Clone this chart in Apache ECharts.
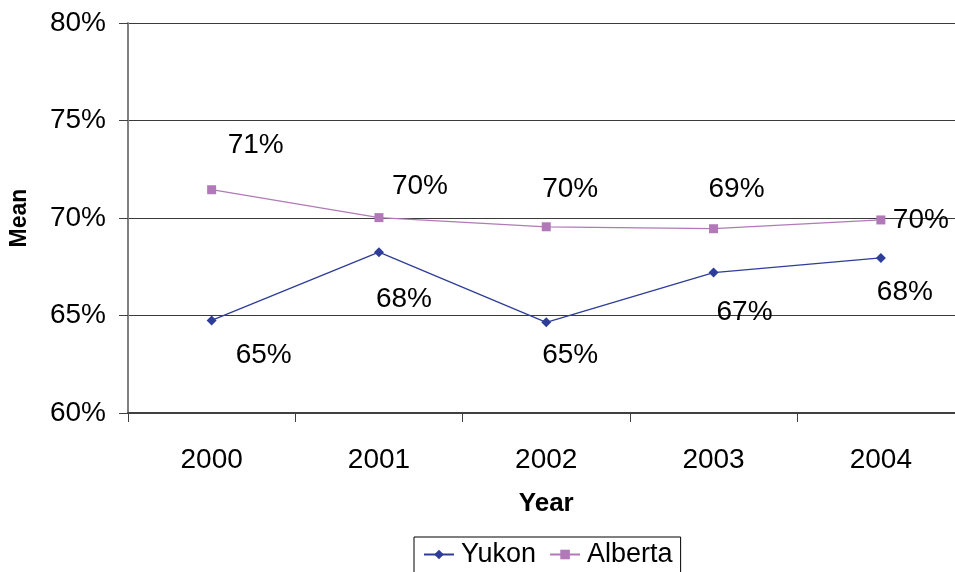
<!DOCTYPE html>
<html>
<head>
<meta charset="utf-8">
<script src="https://cdn.jsdelivr.net/npm/echarts@6/dist/echarts.min.js"></script>
<style>
html,body{margin:0;padding:0;background:#fff;}
#chart{width:955px;height:572px;}
</style>
</head>
<body>
<div id="chart"></div>
<script>
const years = ['2000', '2001', '2002', '2003', '2004'];
const yukon = [64.75, 68.25, 64.65, 67.2, 67.95];
const alberta = [71.45, 70.02, 69.55, 69.45, 69.9];
const yTicks = [60, 65, 70, 75, 80];

// label offsets (px) relative to each point, as in the reference
const yukonLabelOffsets = [[52, 35], [25, 47], [24, 33], [31, 40], [24, 34]];
const albertaLabelOffsets = [[44, -44], [41, -31], [24, -37], [23, -39], [40, 0]];

const font = 'Liberation Sans, Arial, sans-serif';

function buildData(values, offsets) {
  return values.map((v, i) => ({
    value: v,
    label: { offset: offsets[i] }
  }));
}

const chart = echarts.init(document.getElementById('chart'), null, { renderer: 'canvas' });
chart.setOption({
  animation: false,
  backgroundColor: '#ffffff',
  textStyle: { fontFamily: font },
  grid: { left: 128, top: 23, width: 836.5, height: 390, containLabel: false, outerBoundsMode: 'none' },
  xAxis: {
    type: 'category',
    data: years,
    boundaryGap: true,
    name: 'Year',
    nameLocation: 'middle',
    nameGap: 78,
    nameTextStyle: { fontFamily: font, fontSize: 26, fontWeight: 'bold', color: '#000' },
    axisLine: { lineStyle: { color: '#404040', width: 2 } },
    axisTick: { show: true, length: 9, lineStyle: { color: '#404040', width: 1 } },
    axisLabel: { fontFamily: font, fontSize: 28, color: '#000', margin: 33 },
    splitLine: { show: false }
  },
  yAxis: {
    type: 'value',
    min: yTicks[0],
    max: yTicks[yTicks.length - 1],
    interval: 5,
    name: 'Mean',
    nameLocation: 'middle',
    nameGap: 97,
    nameRotate: 90,
    nameTextStyle: { fontFamily: font, fontSize: 23, fontWeight: 'bold', color: '#000' },
    axisLine: { show: true, lineStyle: { color: '#808080', width: 2 } },
    axisTick: { show: true, length: 9, lineStyle: { color: '#404040', width: 1 } },
    axisLabel: { fontFamily: font, fontSize: 28, color: '#000', margin: 22, formatter: '{value}%' },
    splitLine: { show: true, lineStyle: { color: '#3a3a3a', width: 1.2 } }
  },
  legend: {
    data: ['Yukon', 'Alberta'],
    left: 414,
    top: 537,
    orient: 'horizontal',
    padding: [4, 8, 8, 9],
    itemGap: 13,
    itemWidth: 30,
    itemHeight: 12,
    borderColor: '#000',
    borderWidth: 1,
    textStyle: { fontFamily: font, fontSize: 27, color: '#000', padding: [0, 0, 0, 2] }
  },
  series: [
    {
      name: 'Yukon',
      type: 'line',
      data: buildData(yukon, yukonLabelOffsets),
      symbol: 'diamond',
      symbolSize: 10,
      color: '#2E3D98',
      lineStyle: { color: '#2E3D98', width: 1.3 },
      itemStyle: { color: '#2E3D98' },
      label: {
        show: true,
        position: 'inside',
        fontFamily: font,
        fontSize: 28,
        color: '#000',
        formatter: p => Math.round(p.value) + '%'
      }
    },
    {
      name: 'Alberta',
      type: 'line',
      data: buildData(alberta, albertaLabelOffsets),
      symbol: 'rect',
      symbolSize: 9,
      color: '#B279B8',
      lineStyle: { color: '#B279B8', width: 1.3 },
      itemStyle: { color: '#B279B8' },
      label: {
        show: true,
        position: 'inside',
        fontFamily: font,
        fontSize: 28,
        color: '#000',
        formatter: p => Math.round(p.value) + '%'
      }
    }
  ]
});
</script>
</body>
</html>
